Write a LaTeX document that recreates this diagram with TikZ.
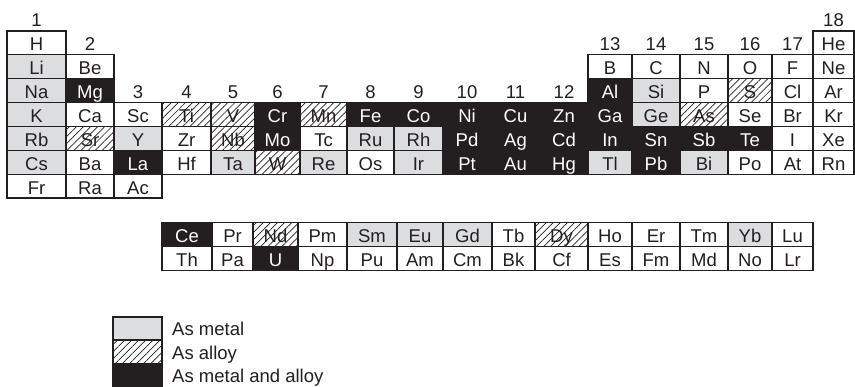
\documentclass[tikz,border=0pt]{standalone}
\usepackage{fontspec}
\setmainfont{Liberation Sans}
\usetikzlibrary{patterns.meta}

\definecolor{ink}{RGB}{35,31,32}
\definecolor{metalgray}{RGB}{220,221,223}

% column edges of the main table and of the f-block rows
\def\edges{{7,66,114,162,211,255,300,347,394,443,491,540,588,632,680,728,772,813,854}}
\def\fedges{{7,66,114,162,212,253,298,347,397,443,492,535,588,632,680,728,772,813,854}}

\tikzset{
  cellbox/.style={draw=ink, line width=1.1pt, inner sep=0pt, text=ink,
    text height=17pt, text depth=1.14pt, font=\fontsize{18.5}{20}\selectfont},
  plain/.style={fill=white},
  metal/.style={fill=metalgray},
  alloy/.style={pattern={Lines[angle=45,distance=5pt,line width=0.7pt]}, pattern color=ink},
  both/.style={fill=ink, text=white},
  grplabel/.style={inner sep=0pt, anchor=base, text=ink, font=\fontsize{18.5}{20}\selectfont},
  legbox/.style={draw=ink, line width=1.1pt, inner sep=0pt, minimum width=49pt},
  legtext/.style={inner sep=0pt, anchor=base west, text=ink, font=\fontsize{18.5}{20}\selectfont}
}

% one element cell: style, column, row, symbol
\newcommand\elem[4]{%
  \ifnum#3<8
    \pgfmathsetmacro\xl{\edges[#2-1]}%
    \pgfmathsetmacro\xr{\edges[#2]}%
    \pgfmathsetmacro\yt{31+23.86*(#3-1)}\def\hh{23.86}%
  \else
    \pgfmathsetmacro\xl{\fedges[#2-1]}%
    \pgfmathsetmacro\xr{\fedges[#2]}%
    \pgfmathsetmacro\yt{222.8+23.7*(#3-8)}\def\hh{23.7}%
  \fi
  \node[cellbox,#1,minimum width={(\xr-\xl)*1pt},minimum height=\hh pt]
    (#4) at ({(\xl+\xr)/2},{\yt+\hh/2}) {#4};}

% group number above a column: column, row of the first cell below it
\newcommand\grp[2]{%
  \pgfmathsetmacro\xl{\edges[#1-1]}%
  \pgfmathsetmacro\xr{\edges[#1]}%
  \node[grplabel] (g#1) at ({(\xl+\xr)/2},{31+23.86*(#2-1)-4.3}) {#1};}

\begin{document}
\begin{tikzpicture}[x=1pt,y=-1pt]
\fill[white] (0,0) rectangle (855,387);
\useasboundingbox (0,0) rectangle (855,387);

% group numbers
\grp{1}{1}\grp{2}{2}
\foreach \c in {3,...,12} {\grp{\c}{4}}
\foreach \c in {13,...,17} {\grp{\c}{2}}
\grp{18}{1}

% period 1
\elem{plain}{1}{1}{H}
\elem{plain}{18}{1}{He}
% period 2
\elem{metal}{1}{2}{Li}
\elem{plain}{2}{2}{Be}
\elem{plain}{13}{2}{B}
\elem{plain}{14}{2}{C}
\elem{plain}{15}{2}{N}
\elem{plain}{16}{2}{O}
\elem{plain}{17}{2}{F}
\elem{plain}{18}{2}{Ne}
% period 3
\elem{metal}{1}{3}{Na}
\elem{both}{2}{3}{Mg}
\elem{both}{13}{3}{Al}
\elem{metal}{14}{3}{Si}
\elem{plain}{15}{3}{P}
\elem{alloy}{16}{3}{S}
\elem{plain}{17}{3}{Cl}
\elem{plain}{18}{3}{Ar}
% period 4
\elem{metal}{1}{4}{K}
\elem{plain}{2}{4}{Ca}
\elem{plain}{3}{4}{Sc}
\elem{alloy}{4}{4}{Ti}
\elem{alloy}{5}{4}{V}
\elem{both}{6}{4}{Cr}
\elem{alloy}{7}{4}{Mn}
\elem{both}{8}{4}{Fe}
\elem{both}{9}{4}{Co}
\elem{both}{10}{4}{Ni}
\elem{both}{11}{4}{Cu}
\elem{both}{12}{4}{Zn}
\elem{both}{13}{4}{Ga}
\elem{metal}{14}{4}{Ge}
\elem{alloy}{15}{4}{As}
\elem{plain}{16}{4}{Se}
\elem{plain}{17}{4}{Br}
\elem{plain}{18}{4}{Kr}
% period 5
\elem{metal}{1}{5}{Rb}
\elem{alloy}{2}{5}{Sr}
\elem{metal}{3}{5}{Y}
\elem{plain}{4}{5}{Zr}
\elem{alloy}{5}{5}{Nb}
\elem{both}{6}{5}{Mo}
\elem{plain}{7}{5}{Tc}
\elem{metal}{8}{5}{Ru}
\elem{metal}{9}{5}{Rh}
\elem{both}{10}{5}{Pd}
\elem{both}{11}{5}{Ag}
\elem{both}{12}{5}{Cd}
\elem{both}{13}{5}{In}
\elem{both}{14}{5}{Sn}
\elem{both}{15}{5}{Sb}
\elem{both}{16}{5}{Te}
\elem{plain}{17}{5}{I}
\elem{plain}{18}{5}{Xe}
% period 6
\elem{metal}{1}{6}{Cs}
\elem{plain}{2}{6}{Ba}
\elem{both}{3}{6}{La}
\elem{plain}{4}{6}{Hf}
\elem{metal}{5}{6}{Ta}
\elem{alloy}{6}{6}{W}
\elem{metal}{7}{6}{Re}
\elem{plain}{8}{6}{Os}
\elem{metal}{9}{6}{Ir}
\elem{both}{10}{6}{Pt}
\elem{both}{11}{6}{Au}
\elem{both}{12}{6}{Hg}
\elem{metal}{13}{6}{Tl}
\elem{both}{14}{6}{Pb}
\elem{metal}{15}{6}{Bi}
\elem{plain}{16}{6}{Po}
\elem{plain}{17}{6}{At}
\elem{plain}{18}{6}{Rn}
% period 7
\elem{plain}{1}{7}{Fr}
\elem{plain}{2}{7}{Ra}
\elem{plain}{3}{7}{Ac}

% lanthanides
\elem{both}{4}{8}{Ce}
\elem{plain}{5}{8}{Pr}
\elem{alloy}{6}{8}{Nd}
\elem{plain}{7}{8}{Pm}
\elem{metal}{8}{8}{Sm}
\elem{metal}{9}{8}{Eu}
\elem{metal}{10}{8}{Gd}
\elem{plain}{11}{8}{Tb}
\elem{alloy}{12}{8}{Dy}
\elem{plain}{13}{8}{Ho}
\elem{plain}{14}{8}{Er}
\elem{plain}{15}{8}{Tm}
\elem{metal}{16}{8}{Yb}
\elem{plain}{17}{8}{Lu}
% actinides
\elem{plain}{4}{9}{Th}
\elem{plain}{5}{9}{Pa}
\elem{both}{6}{9}{U}
\elem{plain}{7}{9}{Np}
\elem{plain}{8}{9}{Pu}
\elem{plain}{9}{9}{Am}
\elem{plain}{10}{9}{Cm}
\elem{plain}{11}{9}{Bk}
\elem{plain}{12}{9}{Cf}
\elem{plain}{13}{9}{Es}
\elem{plain}{14}{9}{Fm}
\elem{plain}{15}{9}{Md}
\elem{plain}{16}{9}{No}
\elem{plain}{17}{9}{Lr}

% legend
\node[legbox, metal, minimum height=23pt] (keymetal) at (137.5,328.5) {};
\node[legbox, alloy, minimum height=24pt] (keyalloy) at (137.5,352) {};
\node[legbox, both, minimum height=23pt] (keyboth) at (137.5,375.5) {};
\node[legtext] (txtmetal) at (172,335.5) {As metal};
\node[legtext] (txtalloy) at (172,359.8) {As alloy};
\node[legtext] (txtboth) at (172,383) {As metal and alloy};
\end{tikzpicture}
\end{document}
